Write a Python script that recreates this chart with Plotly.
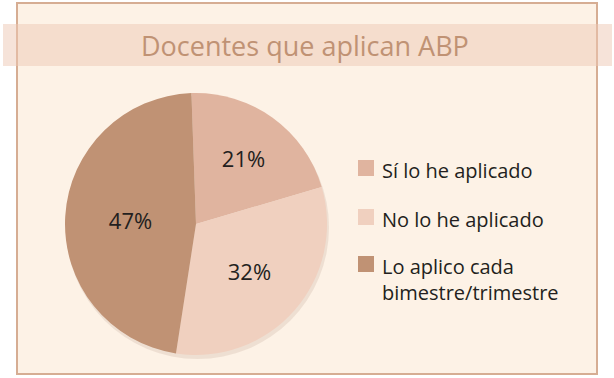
import plotly.graph_objects as go

title = "Docentes que aplican ABP"
labels = ["Sí lo he aplicado", "No lo he aplicado", "Lo aplico cada<br>bimestre/trimestre"]
values = [21, 32, 47]
colors = ["#e0b49f", "#f0d0bf", "#c09274"]

W, H = 614, 378
FONT = "Open Sans"

def px(x):
    return x / W

def py(y):
    return 1 - y / H

fig = go.Figure()

fig.add_trace(go.Pie(
    labels=labels,
    values=values,
    sort=False,
    direction="clockwise",
    rotation=-2,
    marker=dict(colors=colors, line=dict(width=0)),
    texttemplate="%{value}%",
    textposition="inside",
    insidetextorientation="horizontal",
    textfont=dict(family=FONT, size=22, color="#231f20"),
    hoverinfo="label+percent",
    showlegend=False,
    domain=dict(x=[px(65), px(327)], y=[py(355), py(93)]),
))

shapes = [
    # outer panel
    dict(type="rect", xref="paper", yref="paper", x0=px(17), x1=px(597), y0=py(374), y1=py(3),
         fillcolor="#fdf2e6", line=dict(color="#d6ad93", width=2), layer="below"),
    # title band
    dict(type="rect", xref="paper", yref="paper", x0=px(3), x1=px(612), y0=py(66), y1=py(24),
         fillcolor="rgba(238,200,180,0.5)", line=dict(width=0), layer="below"),
    # pie shadow
    dict(type="circle", xref="paper", yref="paper", x0=px(66), x1=px(329), y0=py(359), y1=py(96),
         fillcolor="rgba(170,140,120,0.18)", line=dict(width=0), layer="below"),
]

annotations = [
    dict(text=title, x=px(305), y=py(46), xref="paper", yref="paper", showarrow=False,
         xanchor="center", yanchor="middle",
         font=dict(family=FONT, size=27, color="#c09274")),
]

leg_y = [168, 217, 264]
for lab, col, yc in zip(labels, colors, leg_y):
    shapes.append(dict(type="rect", xref="paper", yref="paper", x0=px(358), x1=px(374),
                       y0=py(yc + 8), y1=py(yc - 8), fillcolor=col, line=dict(width=0)))
    annotations.append(dict(text=lab, x=px(380), y=py(yc - 13), xref="paper", yref="paper",
                            showarrow=False, xanchor="left", yanchor="top", align="left",
                            font=dict(family=FONT, size=20, color="#231f20")))

fig.update_layout(
    width=W, height=H,
    margin=dict(l=0, r=0, t=0, b=0),
    paper_bgcolor="white",
    plot_bgcolor="white",
    shapes=shapes,
    annotations=annotations,
)

fig.write_html("out.html", config={"displayModeBar": False},
               post_script="document.body.style.margin='0px';document.body.style.padding='0px';")
